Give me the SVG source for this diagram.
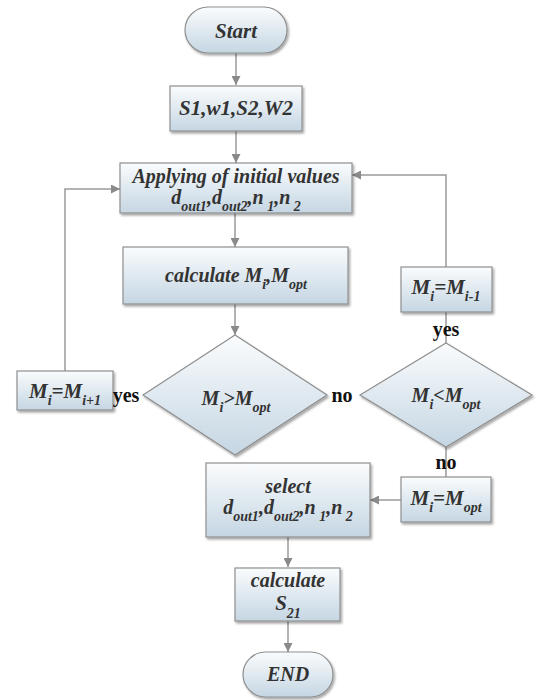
<svg xmlns="http://www.w3.org/2000/svg" width="537" height="700" viewBox="0 0 537 700">
<defs>
<linearGradient id="g" x1="0" y1="0" x2="0" y2="1">
<stop offset="0" stop-color="#fafcfd"/>
<stop offset="1" stop-color="#c5d6e3"/>
</linearGradient>
<filter id="sh" x="-10%" y="-10%" width="130%" height="140%">
<feDropShadow dx="1.5" dy="2" stdDeviation="1.2" flood-color="#000" flood-opacity="0.35"/>
</filter>
<marker id="ar" viewBox="0 0 10 10" refX="10" refY="5" markerWidth="9" markerHeight="9" markerUnits="userSpaceOnUse" orient="auto">
<path d="M0,0 L10,5 L0,10 z" fill="#8a8a8a"/>
</marker>
<style>
.n{fill:url(#g);stroke:#8f8f8f;stroke-width:1.2;filter:url(#sh)}
.t{font-family:'Liberation Serif','Times New Roman','DejaVu Serif',serif;font-weight:bold;font-style:italic;fill:#333;font-size:20px;text-anchor:middle}
.s{font-size:14px}
.l{font-family:'Liberation Serif','Times New Roman','DejaVu Serif',serif;font-weight:bold;fill:#111;font-size:20px;text-anchor:middle}
.c{fill:none;stroke:#9a9a9a;stroke-width:1.5}
</style>
</defs>
<g id="connectors">
<path class="c" d="M236,53 V85" marker-end="url(#ar)"/>
<path class="c" d="M236,131 V163" marker-end="url(#ar)"/>
<path class="c" d="M235,213 V247" marker-end="url(#ar)"/>
<path class="c" d="M235,304 V335" marker-end="url(#ar)"/>
<path class="c" d="M65,371 V189 H120" marker-end="url(#ar)"/>
<path class="c" d="M446,267 V175 H352" marker-end="url(#ar)"/>
<path class="c" d="M446,343 V312"/>
<path class="c" d="M446,447 V477"/>
<path class="c" d="M401,500 H370" marker-end="url(#ar)"/>
<path class="c" d="M288,537 V567" marker-end="url(#ar)"/>
<path class="c" d="M288,621 V652" marker-end="url(#ar)"/>
</g>
<g id="start">
<rect class="n" x="185" y="7" width="102" height="46" rx="23"/>
<text class="t" x="236" y="38" font-family="Liberation Serif, serif" style="font-size:21px">Start</text>
</g>
<g id="input">
<rect class="n" x="170" y="86" width="132" height="45"/>
<text class="t" x="236" y="115" font-family="Liberation Serif, serif" style="font-size:21px">S1,w1,S2,W2</text>
</g>
<g id="apply">
<rect class="n" x="120" y="163" width="232" height="50"/>
<text class="t" x="236" y="183" font-family="Liberation Serif, serif">Applying of initial values</text>
<text class="t" x="236" y="204" font-family="Liberation Serif, serif">d<tspan class="s" dy="7">out1</tspan><tspan dy="-7">,d</tspan><tspan class="s" dy="7">out2</tspan><tspan dy="-7">,n</tspan><tspan class="s" dy="7"> 1</tspan><tspan dy="-7">,n</tspan><tspan class="s" dy="7"> 2</tspan></text>
</g>
<g id="calc">
<rect class="n" x="123" y="247" width="225" height="57"/>
<text class="t" x="236" y="282" font-family="Liberation Serif, serif">calculate M<tspan class="s" dy="7">i</tspan><tspan dy="-7">,M</tspan><tspan class="s" dy="7">opt</tspan></text>
</g>
<g id="dec1">
<path class="n" d="M235,335 L327,395 L235,455 L143,395 Z"/>
<text class="t" x="236" y="405" font-family="Liberation Serif, serif">M<tspan class="s" dy="7">i</tspan><tspan dy="-7">&gt;M</tspan><tspan class="s" dy="7">opt</tspan></text>
</g>
<g id="dec2">
<path class="n" d="M446,343 L532,395 L446,447 L360,395 Z"/>
<text class="t" x="446" y="402" font-family="Liberation Serif, serif">M<tspan class="s" dy="7">i</tspan><tspan dy="-7">&lt;M</tspan><tspan class="s" dy="7">opt</tspan></text>
</g>
<g id="inc">
<rect class="n" x="17" y="371" width="96" height="39"/>
<text class="t" x="65" y="398" font-family="Liberation Serif, serif" style="font-size:21px">M<tspan class="s" dy="7">i</tspan><tspan dy="-7">=M</tspan><tspan class="s" dy="7">i+1</tspan></text>
</g>
<g id="dec">
<rect class="n" x="401" y="267" width="91" height="45"/>
<text class="t" x="446" y="294" font-family="Liberation Serif, serif" style="font-size:21px">M<tspan class="s" dy="7">i</tspan><tspan dy="-7">=M</tspan><tspan class="s" dy="7">i-1</tspan></text>
</g>
<g id="setopt">
<rect class="n" x="401" y="477" width="90" height="45"/>
<text class="t" x="446" y="505" font-family="Liberation Serif, serif" style="font-size:21px">M<tspan class="s" dy="7">i</tspan><tspan dy="-7">=M</tspan><tspan class="s" dy="7">opt</tspan></text>
</g>
<g id="select">
<rect class="n" x="206" y="463" width="164" height="74"/>
<text class="t" x="288" y="493" font-family="Liberation Serif, serif">select</text>
<text class="t" x="288" y="514" font-family="Liberation Serif, serif">d<tspan class="s" dy="7">out1</tspan><tspan dy="-7">,d</tspan><tspan class="s" dy="7">out2</tspan><tspan dy="-7">,n</tspan><tspan class="s" dy="7"> 1</tspan><tspan dy="-7">,n</tspan><tspan class="s" dy="7"> 2</tspan></text>
</g>
<g id="calcs">
<rect class="n" x="235" y="568" width="105" height="53"/>
<text class="t" x="288" y="587" font-family="Liberation Serif, serif">calculate</text>
<text class="t" x="288" y="610" font-family="Liberation Serif, serif" style="font-size:21px">S<tspan class="s" dy="8">21</tspan></text>
</g>
<g id="end">
<rect class="n" x="243" y="652" width="90" height="45" rx="22.5"/>
<text class="t" x="288" y="681" font-family="Liberation Serif, serif">END</text>
</g>
<g id="labels">
<text class="l" x="126" y="402" font-family="Liberation Serif, serif">yes</text>
<text class="l" x="342" y="402" font-family="Liberation Serif, serif">no</text>
<text class="l" x="446" y="336" font-family="Liberation Serif, serif">yes</text>
<text class="l" x="446" y="469" font-family="Liberation Serif, serif">no</text>
</g>
</svg>
